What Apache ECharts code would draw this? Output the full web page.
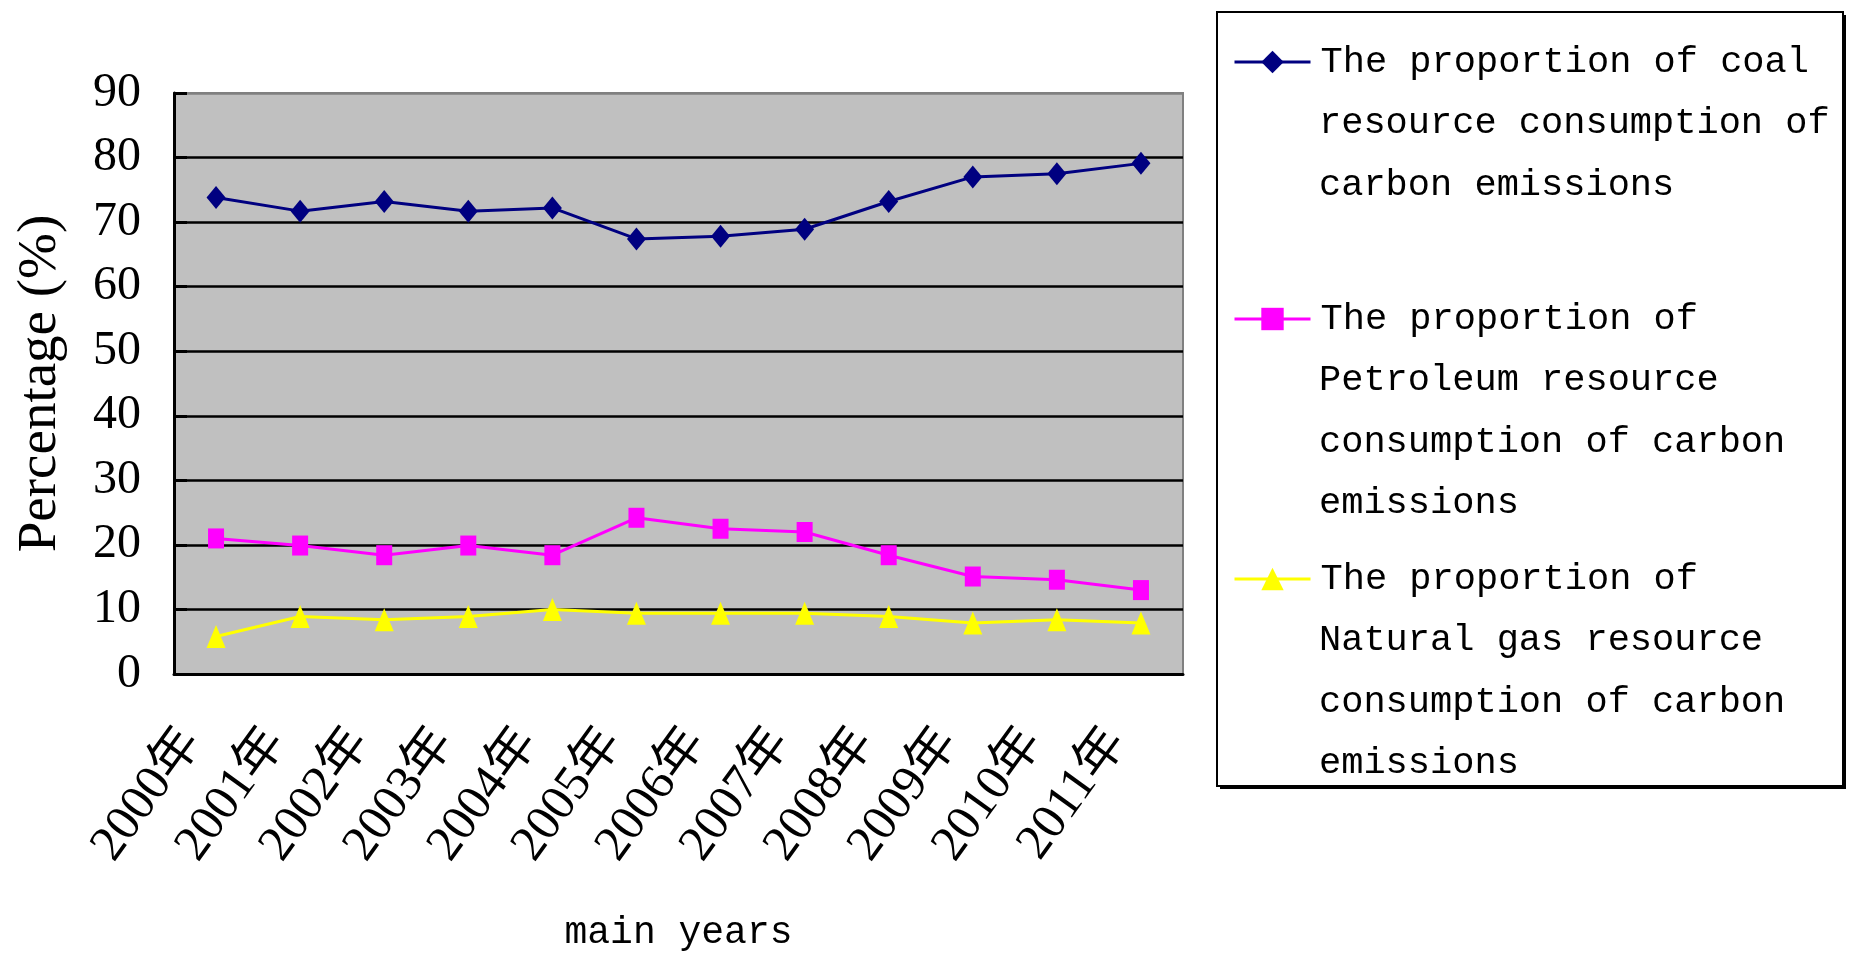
<!DOCTYPE html>
<html>
<head>
<meta charset="utf-8">
<script src="https://cdn.jsdelivr.net/npm/echarts@6/dist/echarts.min.js"></script>
<style>
html,body{margin:0;padding:0;background:#fff;}
#chart{width:1852px;height:959px;}
</style>
</head>
<body>
<div id="chart"></div>
<script>
const years = ['2000年','2001年','2002年','2003年','2004年','2005年','2006年','2007年','2008年','2009年','2010年','2011年'];
const coal = [73.8, 71.7, 73.2, 71.7, 72.2, 67.4, 67.8, 68.9, 73.2, 77.0, 77.5, 79.1];
const petroleum = [21.0, 19.9, 18.4, 19.9, 18.4, 24.2, 22.5, 22.0, 18.4, 15.1, 14.6, 13.0];
const gas = [5.8, 8.9, 8.4, 8.9, 10.0, 9.4, 9.4, 9.4, 8.9, 7.9, 8.4, 7.9];
const seriesNames = [
  'The proportion of coal resource consumption of carbon emissions',
  'The proportion of Petroleum resource consumption of carbon emissions',
  'The proportion of Natural gas resource consumption of carbon emissions'
];
const legendLines = [
  ['The proportion of coal', 'resource consumption of', 'carbon emissions'],
  ['The proportion of', 'Petroleum resource', 'consumption of carbon', 'emissions'],
  ['The proportion of', 'Natural gas resource', 'consumption of carbon', 'emissions']
];
const yAxisTitle = 'Percentage (%)';
const xAxisTitle = 'main years';

const LH = 61.5;
const LEG_FONT = 37;
const legendCenters = [62, 319, 579];
const legendLeft = 1233;
const iconW = 76, iconH = 28;
const legends = seriesNames.map((name, i) => ({
  show: true,
  orient: 'vertical',
  left: legendLeft,
  top: legendCenters[i] - LH / 2,
  padding: 0,
  itemWidth: iconW,
  itemHeight: iconH,
  data: [name],
  selectedMode: false,
  lineStyle: { width: 3 },
  formatter: () => legendLines[i][0],
  textStyle: { fontFamily: 'Liberation Mono', fontSize: LEG_FONT, color: '#000', lineHeight: LH, padding: [0, 0, 0, 5] }
}));
const contTexts = [];
legendLines.forEach((lines, i) => {
  lines.slice(1).forEach((t, k) => {
    contTexts.push({
      type: 'text',
      x: legendLeft + iconW + 10,
      y: legendCenters[i] + (k + 1) * LH,
      style: { text: t, font: LEG_FONT + 'px "Liberation Mono"', fill: '#000', verticalAlign: 'middle', align: 'left' }
    });
  });
});

const chart = echarts.init(document.getElementById('chart'));
chart.setOption({
  animation: false,
  backgroundColor: '#ffffff',
  graphic: [
    { type: 'rect', z: -2, shape: { x: 1220, y: 15, width: 626, height: 774 }, style: { fill: '#000' } },
    { type: 'rect', z: -1, shape: { x: 1217, y: 12, width: 626, height: 774 }, style: { fill: '#ffffff', stroke: '#000', lineWidth: 2 } }
  ].concat(contTexts),
  legend: legends,
  grid: {
    left: 174, right: 669, top: 93, bottom: 285,
    show: true, backgroundColor: '#C0C0C0', borderColor: '#808080', borderWidth: 2
  },
  xAxis: {
    type: 'category',
    data: years,
    boundaryGap: true,
    name: xAxisTitle,
    nameLocation: 'middle',
    nameGap: 240,
    nameTextStyle: { fontFamily: 'Liberation Mono', fontSize: 38, color: '#000' },
    axisLine: { lineStyle: { color: '#000', width: 3 } },
    axisTick: { inside: true, length: 15, lineStyle: { color: '#000', width: 3 } },
    axisLabel: {
      interval: 0,
      rotate: 54,
      margin: 26,
      padding: [0, 42, 0, 0],
      fontFamily: 'Liberation Serif, Noto Sans CJK SC',
      fontSize: 50,
      color: '#000'
    },
    splitLine: { show: false }
  },
  yAxis: {
    type: 'value',
    min: 0, max: 90, interval: 10,
    name: yAxisTitle,
    nameLocation: 'middle',
    nameRotate: 90,
    nameGap: 106,
    nameTextStyle: { fontFamily: 'Liberation Serif', fontSize: 55, color: '#000' },
    axisLine: { show: true, lineStyle: { color: '#000', width: 3 } },
    axisTick: { show: true, inside: true, length: 13, lineStyle: { color: '#000', width: 3 } },
    axisLabel: { margin: 33, fontFamily: 'Liberation Serif', fontSize: 48, color: '#000' },
    splitLine: { show: true, lineStyle: { color: ['#000','#000','#000','#000','#000','#000','#000','#000','#000','#808080'], width: 2.7 } }
  },
  series: [
    {
      name: seriesNames[0], type: 'line', data: coal,
      symbol: 'diamond', symbolSize: [19, 23],
      lineStyle: { color: '#000080', width: 3 },
      itemStyle: { color: '#000080' }
    },
    {
      name: seriesNames[1], type: 'line', data: petroleum,
      symbol: 'rect', symbolSize: [16, 20],
      lineStyle: { color: '#FF00FF', width: 3 },
      itemStyle: { color: '#FF00FF' }
    },
    {
      name: seriesNames[2], type: 'line', data: gas,
      symbol: 'triangle', symbolSize: [19, 23],
      lineStyle: { color: '#FFFF00', width: 3 },
      itemStyle: { color: '#FFFF00' }
    }
  ]
});
</script>
</body>
</html>
